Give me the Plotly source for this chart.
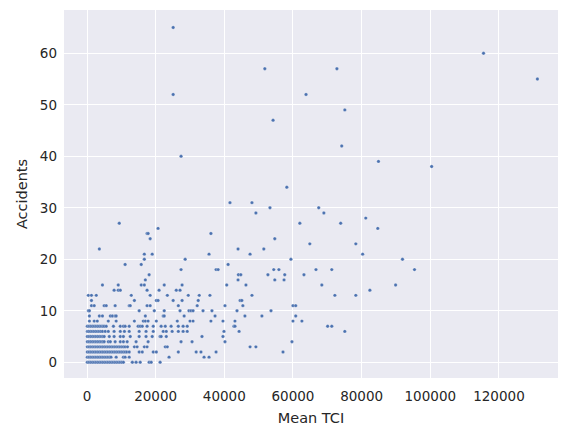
import plotly.graph_objects as go

# Mean TCI values grouped by number of accidents
tci_y0 = [100, 600, 1100, 1600, 2100, 2600, 3100, 3600, 4100, 4600, 5100, 5600, 6100, 6600, 7100, 7600, 8100, 8600, 9100, 9600, 10100, 10600, 13200, 14300, 15500, 18100, 18700, 21300]
tci_y1 = [100, 600, 1100, 1600, 2100, 2600, 3100, 3600, 4100, 4600, 5100, 5600, 6100, 6600, 7000, 8500, 10600, 11100, 12300, 23900, 34100, 35550]
tci_y2 = [100, 600, 1100, 1600, 2100, 2600, 3100, 3600, 4100, 4600, 5100, 5600, 6100, 6600, 7100, 7600, 8100, 8600, 9100, 9600, 10100, 10600, 11100, 11600, 12300, 15200, 16100, 19300, 20200, 26600, 31800, 33200, 37600, 57100]
tci_y3 = [100, 600, 1100, 1600, 2100, 2600, 3100, 3600, 4100, 4600, 5100, 5600, 6100, 6600, 7100, 7600, 8100, 8600, 9100, 9600, 10100, 10600, 11100, 11800, 13800, 14600, 16700, 17500, 22800, 23400, 47500, 49200]
tci_y4 = [100, 600, 1100, 1600, 2100, 2600, 3100, 3600, 4100, 4600, 5000, 6200, 6800, 8200, 9700, 10600, 11700, 14300, 17800, 27400, 30600, 40200, 59700]
tci_y5 = [100, 600, 1100, 1600, 2100, 2600, 3100, 3600, 4100, 4600, 5000, 6500, 7900, 9700, 10600, 12600, 15200, 17200, 19000, 21300, 21600, 23100, 33500, 39600]
tci_y6 = [100, 500, 1000, 1500, 2000, 2500, 3000, 3500, 4000, 4500, 5300, 6200, 7900, 9700, 10900, 12300, 15200, 17200, 19300, 22200, 23100, 24800, 26600, 28000, 29200, 39900, 44300, 75100]
tci_y7 = [100, 600, 1100, 1600, 2100, 2600, 3100, 3600, 4100, 4600, 5000, 5600, 7700, 9700, 10600, 11100, 12300, 14900, 15500, 16100, 17500, 19300, 21600, 22800, 24500, 26600, 28000, 29200, 42800, 43100, 70100, 71300]
tci_y8 = [700, 2100, 3000, 6200, 8500, 13800, 16400, 17000, 17800, 20200, 26300, 30000, 30900, 36100, 39600, 43100, 60000, 62600]
tci_y9 = [700, 3600, 4500, 6800, 7400, 8200, 8500, 17000, 22200, 22500, 28300, 37300, 46000, 50950, 60800]
tci_y10 = [400, 700, 15200, 19600, 22500, 27100, 29700, 30300, 30900, 33800, 36400, 43700, 53600]
tci_y11 = [1300, 2100, 5000, 5600, 8200, 12300, 12600, 17500, 18400, 26600, 32100, 40200, 45400, 60000, 60800]
tci_y12 = [1300, 13800, 20200, 20700, 25100, 27700, 32400, 44600, 45100]
tci_y13 = [400, 1300, 2700, 12900, 18400, 23400, 29500, 32700, 35800, 48050, 72200, 78300]
tci_y14 = [7900, 9100, 9700, 17500, 21000, 26000, 27100, 82400]
tci_y15 = [4500, 9100, 15800, 16700, 22500, 27700, 40700, 46300, 68400, 89900]
tci_y16 = [17000, 44000, 54700, 57400]
tci_y17 = [18100, 44100, 44800, 52700, 57600, 63200]
tci_y18 = [27400, 37600, 38200, 54400, 55900, 66700, 71300, 95400]
tci_y19 = [11100, 15800, 41100]
tci_y20 = [16700, 28600, 59400, 91900]
tci_y21 = [16700, 19000, 35550, 47500, 80300]
tci_y22 = [3600, 44000, 51500]
tci_y23 = [64900, 78300]
tci_y24 = [18400, 54700]
tci_y25 = [17500, 17800, 36100]
tci_y26 = [20700, 84700]
tci_y27 = [9400, 62000, 73900]
tci_y28 = [81200]
tci_y29 = [49200, 69000]
tci_y30 = [53300, 67500]
tci_y31 = [41650, 48050]
tci_y34 = [58200]
tci_y38 = [100400]
tci_y39 = [84900]
tci_y40 = [27400]
tci_y42 = [74200]
tci_y47 = [54200]
tci_y49 = [75100]
tci_y52 = [25100, 63800]
tci_y55 = [131200]
tci_y57 = [51800, 72800]
tci_y60 = [115500]
tci_y65 = [25100]

groups = [(0, tci_y0), (1, tci_y1), (2, tci_y2), (3, tci_y3), (4, tci_y4), (5, tci_y5),
          (6, tci_y6), (7, tci_y7), (8, tci_y8), (9, tci_y9), (10, tci_y10), (11, tci_y11),
          (12, tci_y12), (13, tci_y13), (14, tci_y14), (15, tci_y15), (16, tci_y16),
          (17, tci_y17), (18, tci_y18), (19, tci_y19), (20, tci_y20), (21, tci_y21),
          (22, tci_y22), (23, tci_y23), (24, tci_y24), (25, tci_y25), (26, tci_y26),
          (27, tci_y27), (28, tci_y28), (29, tci_y29), (30, tci_y30), (31, tci_y31),
          (34, tci_y34), (38, tci_y38), (39, tci_y39), (40, tci_y40), (42, tci_y42),
          (47, tci_y47), (49, tci_y49), (52, tci_y52), (55, tci_y55), (57, tci_y57),
          (60, tci_y60), (65, tci_y65)]

xs, ys = [], []
for acc, vals in groups:
    for v in vals:
        xs.append(v)
        ys.append(acc)

fig = go.Figure(go.Scatter(
    x=xs, y=ys, mode="markers",
    marker=dict(color="#4c72b0", size=3.4, line=dict(color="white", width=0.25)),
))

axis_common = dict(showgrid=True, gridcolor="white", gridwidth=1.2, zeroline=False,
                   showline=False, ticks="", automargin=False,
                   tickfont=dict(size=13.5, color="#262626"),
                   title_font=dict(size=14.5, color="#262626"))
fig.update_layout(
    width=569, height=438,
    margin=dict(l=56, r=19, t=2, b=68),
    paper_bgcolor="white", plot_bgcolor="#eaeaf2",
    font=dict(family="DejaVu Sans", color="#262626"),
    showlegend=False,
    xaxis=dict(range=[-6700, 137200], tickvals=[0, 20000, 40000, 60000, 80000, 100000, 120000],
               ticktext=["0", "20000", "40000", "60000", "80000", "100000", "120000"],
               ticklabelstandoff=8,
               title=dict(text="Mean TCI", standoff=10), **axis_common),
    yaxis=dict(range=[-3.05, 68.4], tickvals=[0, 10, 20, 30, 40, 50, 60],
               ticklabelstandoff=6,
               title=dict(text="Accidents", standoff=8), **axis_common),
)
fig.write_html("out.html")
